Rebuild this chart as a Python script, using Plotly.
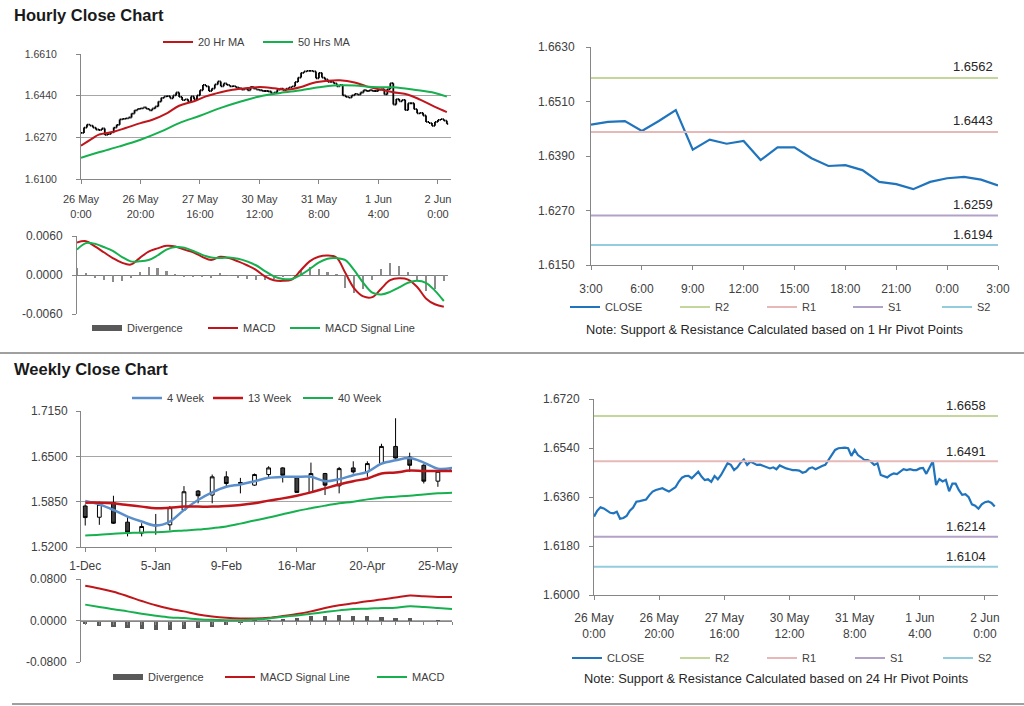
import plotly.graph_objects as go

W, H = 1024, 706
FONT = "Arial, 'Liberation Sans', Helvetica, sans-serif"
TICK = '#404040'
AXIS = '#868686'
GRID = '#a6a6a6'

# ---------------- data ----------------
hour_ticks = [0, 20, 40, 60, 80, 100, 120]
hour_ticktext = ["26 May<br>0:00", "26 May<br>20:00", "27 May<br>16:00", "30 May<br>12:00",
                 "31 May<br>8:00", "1 Jun<br>4:00", "2 Jun<br>0:00"]

# hourly close, 26 May 0:00 .. 2 Jun 3:00 (weekend skipped)
hourly_close = [
    1.6288, 1.6310, 1.6322, 1.6318, 1.6310, 1.6302, 1.6300, 1.6306, 1.6280, 1.6283,
    1.6290, 1.6310, 1.6321, 1.6343, 1.6345, 1.6347, 1.6351, 1.6367, 1.6380, 1.6386,
    1.6388, 1.6392, 1.6386, 1.6380, 1.6388, 1.6396, 1.6416, 1.6431, 1.6437, 1.6438,
    1.6429, 1.6441, 1.6453, 1.6435, 1.6422, 1.6425, 1.6416, 1.6437, 1.6425, 1.6441,
    1.6462, 1.6484, 1.6478, 1.6459, 1.6469, 1.6486, 1.6498, 1.6478, 1.6490, 1.6484,
    1.6478, 1.6479, 1.6474, 1.6471, 1.6465, 1.6469, 1.6462, 1.6476, 1.6469, 1.6465,
    1.6462, 1.6459, 1.6459, 1.6457, 1.6449, 1.6453, 1.6465, 1.6469, 1.6462, 1.6469,
    1.6474, 1.6478, 1.6496, 1.6514, 1.6533, 1.6539, 1.6541, 1.6541, 1.6539, 1.6511,
    1.6533, 1.6514, 1.6506, 1.6496, 1.6496, 1.6490, 1.6478, 1.6484, 1.6441, 1.6435,
    1.6432, 1.6441, 1.6447, 1.6444, 1.6453, 1.6462, 1.6459, 1.6462, 1.6459,
    1.6459, 1.6465, 1.6467, 1.6445, 1.6467, 1.6491, 1.6404, 1.6426, 1.6417, 1.6423,
    1.6381, 1.6409, 1.6409, 1.6385, 1.6368, 1.6370, 1.6359, 1.6333, 1.6328, 1.6317,
    1.6333, 1.6341, 1.6344, 1.6338, 1.6325]

ma20_idx = [0, 4, 6, 11, 15, 20, 24, 29, 33, 38, 42, 47, 51, 56, 60, 65, 69, 74, 78,
            83, 87, 92, 96, 101, 105, 110, 114, 119, 123]
ma20 = [1.6236, 1.6267, 1.6281, 1.6293, 1.6308, 1.6328, 1.6342, 1.6369, 1.6399, 1.6417,
        1.6437, 1.6454, 1.6464, 1.6471, 1.6475, 1.6470, 1.6464, 1.6475, 1.6492, 1.6501,
        1.6503, 1.6494, 1.6478, 1.6464, 1.6454, 1.6444, 1.6424, 1.6394, 1.6373]

ma50_idx = [0, 6, 13, 20, 27, 33, 40, 47, 54, 60, 67, 74, 80, 85, 92, 98, 105, 112, 119, 123]
ma50 = [1.6186, 1.6209, 1.6233, 1.6260, 1.6294, 1.6328, 1.6358, 1.6390, 1.6417, 1.6437,
        1.6451, 1.6462, 1.6474, 1.6481, 1.6481, 1.6475, 1.6474, 1.6464, 1.6451, 1.6436]

macd_idx = list(range(0, 124, 3))
macd_h = [.0050, .0052, .0044, .0035, .0026, .0019, .0016, .0026, .0036, .0041,
          .0045, .0044, .0039, .0035, .0028, .0023, .0028, .0026, .0021, .0015,
          .0008, -.0002, -.0008, -.0009, -.0007, .0007, .0021, .0028, .0030, .0027,
          .0003, -.0021, -.0033, -.0034, -.0021, -.0008, -.0005, -.0007, -.0018, -.0036,
          -.0045, -.0049]
signal_h = [.0039, .0049, .0048, .0043, .0037, .0028, .0021, .0021, .0023, .0030,
            .0039, .0043, .0042, .0037, .0031, .0027, .0026, .0027, .0025, .0021,
            .0015, .0006, -.0002, -.0006, -.0006, .0000, .0009, .0019, .0025, .0026,
            .0023, .0007, -.0012, -.0027, -.0030, -.0026, -.0019, -.0012, -.0009, -.0012,
            -.0024, -.0040]

last24_ticktext = ["3:00", "6:00", "9:00", "12:00", "15:00", "18:00", "21:00", "0:00", "3:00"]
pivot_names = ["R2", "R1", "S1", "S2"]
pivot_colors = ["#c3d69b", "#e6b9b8", "#b3a2c7", "#93cddd"]
pivot_1h = [1.6562, 1.6443, 1.6259, 1.6194]
pivot_24h = [1.6658, 1.6491, 1.6214, 1.6104]

week_ticks = [0, 5, 10, 15, 20, 25]
week_ticktext = ["1-Dec", "5-Jan", "9-Feb", "16-Mar", "20-Apr", "25-May"]
wk_open = [1.5788, 1.5627, 1.5836, 1.5556, 1.5399, 1.5505, 1.5518, 1.5731, 1.6002, 1.5945,
           1.6206, 1.6111, 1.6087, 1.6239, 1.6334, 1.6192, 1.5983, 1.6253, 1.6078, 1.6334,
           1.6277, 1.6396, 1.6642, 1.6490, 1.6372, 1.6144, 1.6286]
wk_high = [1.5812, 1.5850, 1.5935, 1.5636, 1.5541, 1.5674, 1.5788, 1.6073, 1.6016, 1.6239,
           1.6286, 1.6191, 1.6253, 1.6358, 1.6343, 1.6206, 1.6410, 1.6263, 1.6348, 1.6429,
           1.6429, 1.6680, 1.7046, 1.6552, 1.6386, 1.6301, 1.6339]
wk_low = [1.5508, 1.5518, 1.5532, 1.5352, 1.5352, 1.5375, 1.5437, 1.5717, 1.5826, 1.5826,
          1.6063, 1.5969, 1.6078, 1.6200, 1.6125, 1.5983, 1.5983, 1.5945, 1.5969, 1.6253,
          1.6206, 1.6381, 1.6467, 1.6277, 1.6111, 1.6063, 1.6286]
wk_close = [1.5622, 1.5812, 1.5541, 1.5413, 1.5494, 1.5512, 1.5764, 1.5992, 1.5935, 1.6206,
            1.6111, 1.6125, 1.6239, 1.6334, 1.6229, 1.5983, 1.6253, 1.6087, 1.6324, 1.6277,
            1.6396, 1.6642, 1.6476, 1.6372, 1.6144, 1.6286, 1.6339]
wk_ma4 = [1.5859, 1.5812, 1.5731, 1.5636, 1.5565, 1.5508, 1.5565, 1.5731, 1.5874, 1.5983,
          1.6063, 1.6097, 1.6144, 1.6192, 1.6206, 1.6206, 1.6206, 1.6144, 1.6173, 1.6229,
          1.6277, 1.6396, 1.6443, 1.6476, 1.6410, 1.6324, 1.6334]
wk_ma13 = [1.5836, 1.5836, 1.5826, 1.5802, 1.5779, 1.5755, 1.5764, 1.5779, 1.5779, 1.5779,
           1.5788, 1.5802, 1.5826, 1.5865, 1.5897, 1.5935, 1.5983, 1.6040, 1.6097, 1.6144,
           1.6182, 1.6253, 1.6267, 1.6296, 1.6291, 1.6291, 1.6291]
wk_ma40 = [1.5366, 1.5375, 1.5390, 1.5399, 1.5409, 1.5413, 1.5423, 1.5437, 1.5450, 1.5470,
           1.5494, 1.5535, 1.5580, 1.5622, 1.5670, 1.5717, 1.5755, 1.5793, 1.5826, 1.5850,
           1.5883, 1.5907, 1.5921, 1.5935, 1.5954, 1.5969, 1.5978]
wk_signal = [0.0670, 0.0618, 0.0553, 0.0468, 0.0377, 0.0293, 0.0228, 0.0176, 0.0117, 0.0078,
             0.0052, 0.0039, 0.0039, 0.0052, 0.0085, 0.0124, 0.0176, 0.0241, 0.0293, 0.0332,
             0.0371, 0.0403, 0.0442, 0.0481, 0.0468, 0.0455, 0.0455]
wk_macd = [0.0306, 0.0260, 0.0215, 0.0176, 0.0130, 0.0091, 0.0059, 0.0046, 0.0026, 0.0013,
           0.0007, 0.0007, 0.0020, 0.0039, 0.0072, 0.0098, 0.0130, 0.0163, 0.0195, 0.0221,
           0.0228, 0.0241, 0.0247, 0.0273, 0.0260, 0.0241, 0.0221]
wk_div = [-0.0060, -0.0098, -0.0130, -0.0143, -0.0163, -0.0176, -0.0176, -0.0163, -0.0143, -0.0130,
          -0.0078, -0.0052, -0.0033, -0.0013, 0.0026, 0.0046, 0.0078, 0.0085, 0.0104, 0.0091,
          0.0091, 0.0059, 0.0046, 0.0046, 0.0000, -0.0013, 0.0000]

# ---------------- helpers ----------------
RED = '#c0161b'
GREEN = '#16b04f'
BLUE = '#1f74bd'
LBLUE = '#5b8fcb'


def xd(a, b):
    return [a / W, b / W]


def yd(top, bottom):
    return [1 - bottom / H, 1 - top / H]


legends = {}


def leg(n, x_px, y_px):
    key = 'legend' if n == 1 else 'legend%d' % n
    legends[key] = dict(x=(x_px - 5) / W, y=1 - y_px / H, xanchor='left', yanchor='middle',
                        orientation='h', bgcolor='rgba(0,0,0,0)', borderwidth=0,
                        font=dict(size=11, color=TICK, family=FONT), itemwidth=30)
    return key


fig = go.Figure()
hx = list(range(len(hourly_close)))
h_open = [hourly_close[0]] + hourly_close[:-1]
h_high = [max(o, c) for o, c in zip(h_open, hourly_close)]
h_low = [min(o, c) for o, c in zip(h_open, hourly_close)]

# ---- A: hourly price ----
fig.add_trace(go.Ohlc(x=hx, open=h_open, high=h_high, low=h_low, close=hourly_close,
                      increasing=dict(line=dict(color='black', width=1.8)),
                      decreasing=dict(line=dict(color='black', width=1.8)),
                      tickwidth=0.45, showlegend=False, xaxis='x', yaxis='y', hoverinfo='skip'))
fig.add_trace(go.Scatter(x=ma20_idx, y=ma20, mode='lines', name='20 Hr MA',
                         line=dict(color=RED, width=2, shape='spline'), legend=leg(1, 163, 42),
                         xaxis='x', yaxis='y'))
fig.add_trace(go.Scatter(x=ma50_idx, y=ma50, mode='lines', name='50 Hrs MA',
                         line=dict(color=GREEN, width=2, shape='spline'), legend=leg(2, 263, 42),
                         xaxis='x', yaxis='y'))

# ---- B: hourly MACD ----
div_h = [m - s for m, s in zip(macd_h, signal_h)]
fig.add_trace(go.Bar(x=macd_idx, y=div_h, marker=dict(color='#8c8c8c', line=dict(width=0)),
                     width=0.7, showlegend=False, xaxis='x2', yaxis='y2'))
fig.add_trace(go.Scatter(x=[None], y=[None], mode='lines', name='Divergence',
                         line=dict(color='#595959', width=6), legend=leg(3, 92, 328),
                         xaxis='x2', yaxis='y2'))
fig.add_trace(go.Scatter(x=macd_idx, y=macd_h, mode='lines', name='MACD',
                         line=dict(color=RED, width=2, shape='spline'), legend=leg(4, 208, 328),
                         xaxis='x2', yaxis='y2'))
fig.add_trace(go.Scatter(x=macd_idx, y=signal_h, mode='lines', name='MACD Signal Line',
                         line=dict(color=GREEN, width=2, shape='spline'), legend=leg(5, 290, 328),
                         xaxis='x2', yaxis='y2'))

# ---- C: last 24 hours with 1 Hr pivots ----
last = hourly_close[-25:]
cx = list(range(len(last)))
fig.add_trace(go.Scatter(x=cx, y=last, mode='lines', name='CLOSE',
                         line=dict(color=BLUE, width=2.2), legend=leg(6, 570, 307),
                         xaxis='x3', yaxis='y3'))
c_leg_x = [680, 767, 853, 942]
for k, (nm, col, v) in enumerate(zip(pivot_names, pivot_colors, pivot_1h)):
    fig.add_trace(go.Scatter(x=[cx[0], cx[-1]], y=[v, v], mode='lines', name=nm,
                             line=dict(color=col, width=2), legend=leg(7 + k, c_leg_x[k], 307),
                             xaxis='x3', yaxis='y3'))

# ---- D: weekly candles ----
wx = list(range(len(wk_close)))
fig.add_trace(go.Candlestick(x=wx, open=wk_open, high=wk_high, low=wk_low, close=wk_close,
                             increasing=dict(line=dict(color='black', width=1), fillcolor='white'),
                             decreasing=dict(line=dict(color='black', width=1), fillcolor='#404040'),
                             whiskerwidth=0, showlegend=False, xaxis='x4', yaxis='y4',
                             hoverinfo='skip'))
fig.add_trace(go.Scatter(x=wx, y=wk_ma4, mode='lines', name='4 Week',
                         line=dict(color=LBLUE, width=2.5, shape='spline'), legend=leg(11, 132, 398),
                         xaxis='x4', yaxis='y4'))
fig.add_trace(go.Scatter(x=wx, y=wk_ma13, mode='lines', name='13 Week',
                         line=dict(color=RED, width=2.5, shape='spline'), legend=leg(12, 213, 398),
                         xaxis='x4', yaxis='y4'))
fig.add_trace(go.Scatter(x=wx, y=wk_ma40, mode='lines', name='40 Week',
                         line=dict(color=GREEN, width=2, shape='spline'), legend=leg(13, 303, 398),
                         xaxis='x4', yaxis='y4'))

# ---- E: weekly MACD ----
fig.add_trace(go.Bar(x=wx, y=wk_div, marker=dict(color='#595959', line=dict(width=0)), width=0.3,
                     showlegend=False, xaxis='x5', yaxis='y5'))
fig.add_trace(go.Scatter(x=[None], y=[None], mode='lines', name='Divergence',
                         line=dict(color='#595959', width=6), legend=leg(14, 113, 677),
                         xaxis='x5', yaxis='y5'))
fig.add_trace(go.Scatter(x=wx, y=wk_signal, mode='lines', name='MACD Signal Line',
                         line=dict(color=RED, width=2, shape='spline'), legend=leg(15, 225, 677),
                         xaxis='x5', yaxis='y5'))
fig.add_trace(go.Scatter(x=wx, y=wk_macd, mode='lines', name='MACD',
                         line=dict(color=GREEN, width=2, shape='spline'), legend=leg(16, 377, 677),
                         xaxis='x5', yaxis='y5'))

# ---- F: hourly close with 24 Hr pivots ----
fig.add_trace(go.Scatter(x=hx, y=hourly_close, mode='lines', name='CLOSE',
                         line=dict(color=BLUE, width=2.2), legend=leg(17, 572, 658),
                         xaxis='x6', yaxis='y6'))
f_leg_x = [680, 767, 855, 943]
for k, (nm, col, v) in enumerate(zip(pivot_names, pivot_colors, pivot_24h)):
    fig.add_trace(go.Scatter(x=[hx[0], 124], y=[v, v], mode='lines', name=nm,
                             line=dict(color=col, width=2), legend=leg(18 + k, f_leg_x[k], 658),
                             xaxis='x6', yaxis='y6'))

# ---------------- axes ----------------
tf = dict(family=FONT, size=11, color=TICK)
tf12 = dict(family=FONT, size=12, color=TICK)


def xax(dom, anchor, rng, **kw):
    d = dict(domain=xd(*dom), anchor=anchor, range=rng, showgrid=False, zeroline=False,
             showline=True, linecolor=AXIS, linewidth=1, ticks='outside', ticklen=4,
             tickcolor=AXIS, tickfont=tf, fixedrange=True, automargin=False,
             rangeslider=dict(visible=False))
    d.update(kw)
    return d


def yax(dom, anchor, rng, tickvals, **kw):
    d = dict(domain=yd(*dom), anchor=anchor, range=rng, tickvals=tickvals, tickformat='.4f',
             showgrid=False, gridcolor=GRID, gridwidth=1, zeroline=False, showline=True,
             linecolor=AXIS, linewidth=1, ticks='outside', ticklen=4, tickcolor=AXIS,
             tickfont=tf, fixedrange=True, automargin=False)
    d.update(kw)
    return d


layout = dict(
    width=W, height=H, autosize=False,
    margin=dict(l=0, r=0, t=0, b=0, pad=0, autoexpand=False),
    paper_bgcolor='white', plot_bgcolor='white', font=dict(family=FONT, size=11, color=TICK),
    boxgap=0.62, bargap=0, hovermode=False,
    xaxis=xax((81, 451), 'y', [0, 124.4], tickvals=hour_ticks, ticktext=hour_ticktext,
              ticklabelstandoff=6),
    yaxis=yax((54, 179), 'x', [1.61, 1.661], [1.61, 1.627, 1.644, 1.661], showgrid=True,
              ticklabelstandoff=17, tickfont=dict(family=FONT, size=10.5, color=TICK)),
    xaxis2=xax((77, 448), 'y2', [0, 124.4], showline=False, ticks='', showticklabels=False),
    yaxis2=yax((236, 314), 'x2', [-0.006, 0.006], [-0.006, 0, 0.006],
               ticktext=["-0.0060", "0.0000", "0.0060"], showgrid=True, ticklabelstandoff=7,
               tickfont=tf12, zeroline=True, zerolinecolor='#808080', zerolinewidth=1),
    xaxis3=xax((591, 998), 'y3', [0, 24], tickvals=list(range(0, 25, 3)),
               ticktext=last24_ticktext, tickfont=tf12, ticklabelstandoff=9),
    yaxis3=yax((47, 265), 'x3', [1.615, 1.663], [1.615, 1.627, 1.639, 1.651, 1.663],
               tickfont=tf12, ticklabelstandoff=9),
    xaxis4=xax((81, 452), 'y4', [-0.3, 26], tickvals=week_ticks, ticktext=week_ticktext,
               tickfont=tf12, ticklabelstandoff=4),
    yaxis4=yax((411, 547), 'x4', [1.52, 1.715], [1.52, 1.585, 1.65, 1.715], showgrid=True,
               tickfont=tf12, ticklabelstandoff=6),
    xaxis5=xax((81, 452), 'free', [-0.3, 26], position=1 - 621 / H, tickvals=wx,
               showticklabels=False, ticklen=3),
    yaxis5=yax((579, 662), 'x5', [-0.08, 0.08], [-0.08, 0, 0.08],
               ticktext=["-0.0800", "0.0000", "0.0800"], showgrid=True, ticklabelstandoff=7,
               tickfont=tf12),
    xaxis6=xax((594, 998), 'y6', [0, 124], tickvals=hour_ticks, ticktext=hour_ticktext,
               tickfont=tf12, ticklabelstandoff=8),
    yaxis6=yax((399, 595), 'x6', [1.60, 1.672], [1.60, 1.618, 1.636, 1.654, 1.672],
               tickfont=tf12, ticklabelstandoff=7),
)
layout.update(legends)
fig.update_layout(**layout)

# titles, notes, pivot labels
ann = []
ann.append(dict(x=12 / W, y=1 - 15 / H, xref='paper', yref='paper', text='<b>Hourly Close Chart</b>',
                showarrow=False, xanchor='left', yanchor='middle',
                font=dict(family=FONT, size=16.5, color='#1a1a1a')))
ann.append(dict(x=12 / W, y=1 - 369 / H, xref='paper', yref='paper', text='<b>Weekly Close Chart</b>',
                showarrow=False, xanchor='left', yanchor='middle',
                font=dict(family=FONT, size=16.5, color='#1a1a1a')))
ann.append(dict(x=774 / W, y=1 - 329 / H, xref='paper', yref='paper',
                text='Note: Support & Resistance Calculated based on 1 Hr Pivot Points',
                showarrow=False, xanchor='center', yanchor='middle',
                font=dict(family=FONT, size=12.8, color='#262626')))
ann.append(dict(x=776 / W, y=1 - 678 / H, xref='paper', yref='paper',
                text='Note: Support & Resistance Calculated based on 24 Hr Pivot Points',
                showarrow=False, xanchor='center', yanchor='middle',
                font=dict(family=FONT, size=12.8, color='#262626')))
for v in pivot_1h:
    ann.append(dict(x=0.993, y=v, xref='x3 domain', yref='y3', text='%.4f' % v, showarrow=False,
                    xanchor='right', yanchor='middle', yshift=11,
                    font=dict(family=FONT, size=13, color='#262626')))
for v in pivot_24h:
    ann.append(dict(x=0.975, y=v, xref='x6 domain', yref='y6', text='%.4f' % v, showarrow=False,
                    xanchor='right', yanchor='middle', yshift=10,
                    font=dict(family=FONT, size=13, color='#262626')))
fig.update_layout(annotations=ann)

# panel separators
fig.add_shape(type='line', xref='paper', yref='paper', x0=0, x1=1, y0=1 - 353 / H, y1=1 - 353 / H,
              line=dict(color='#a0a0a0', width=2))
fig.add_shape(type='line', xref='paper', yref='paper', x0=12 / W, x1=1, y0=1 - 704 / H, y1=1 - 704 / H,
              line=dict(color='#a0a0a0', width=2))

fig.write_html("out.html", config={'displayModeBar': False},
               post_script="document.body.style.margin='0px';")
